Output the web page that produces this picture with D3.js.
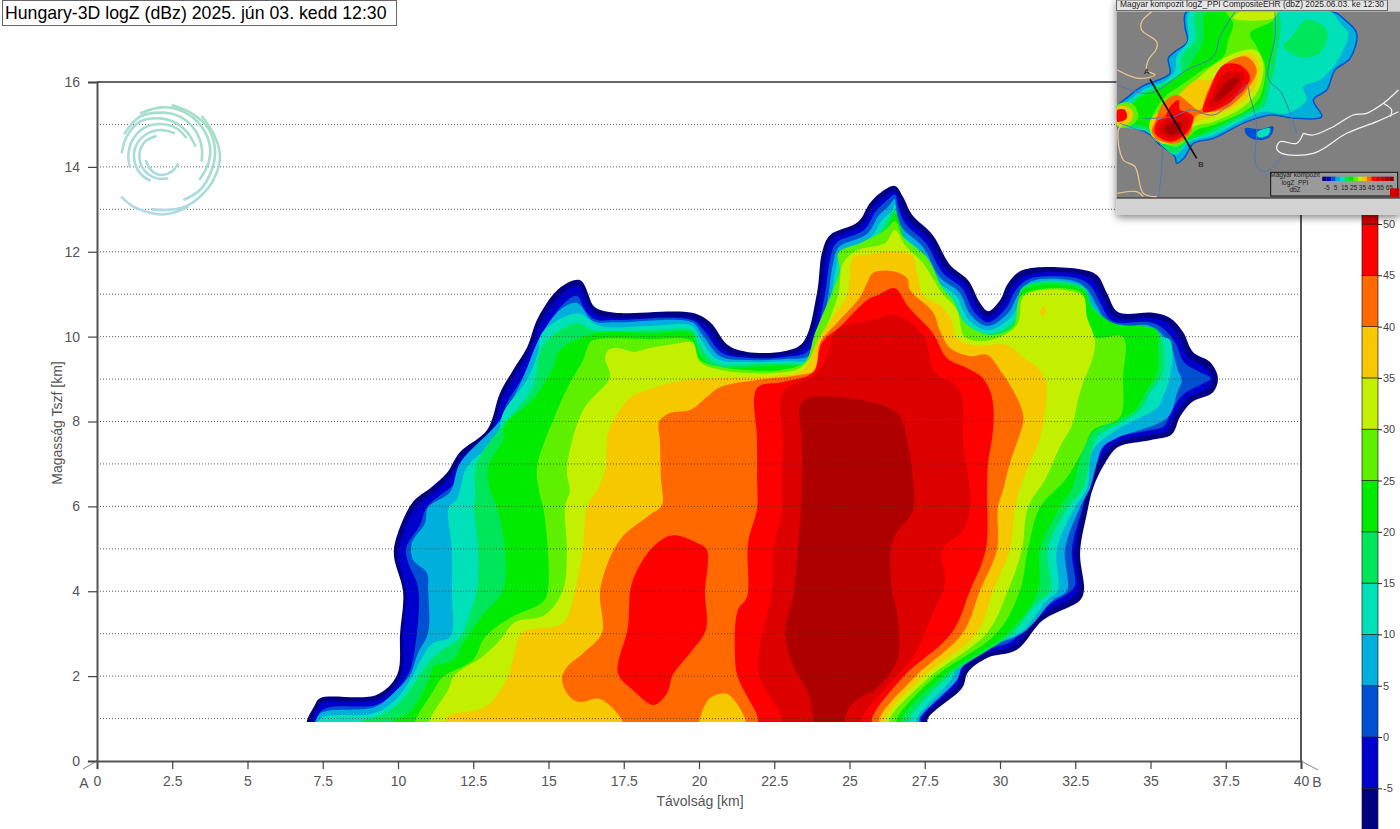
<!DOCTYPE html>
<html lang="hu">
<head>
<meta charset="UTF-8" />
<title>Hungary-3D logZ</title>
<style>
  body { margin: 0; background: #fff; }
  svg { display: block; font-family: "Liberation Sans", Arial, sans-serif; }
</style>
</head>
<body>
<script src="https://d3js.org/d3.v7.min.js"></script>
<script>
// contour outlines of the section, [distance km, height km], one array per dBZ floor
const bandM10 = [[7,.73],[7.24,1.32],[7.41,1.48],[9.3,1.56],[9.97,2.03],[10.07,3.02],[10.17,3.98],[9.87,4.81],[9.9,5.14],[10.47,6.08],[11.13,6.46],[11.63,6.79],[12.06,7.28],[12.96,7.8],[13.39,8.67],[13.82,9.21],[14.29,9.75],[14.65,10.44],[15.38,11.15],[16.05,11.33],[16.48,10.74],[16.64,10.65],[17.21,10.56],[19.77,10.56],[20.37,10.34],[20.96,9.8],[21.59,9.64],[22.86,9.66],[23.46,9.87],[23.92,11.03],[24.09,11.99],[24.35,12.39],[25.28,12.7],[25.68,13.15],[26.01,13.38],[26.51,13.55],[26.78,13.29],[27.08,12.87],[27.77,12.39],[28.34,11.69],[28.94,11.33],[29.34,10.79],[29.6,10.6],[30,10.86],[30.27,11.26],[30.76,11.57],[32.66,11.59],[33.22,11.45],[33.55,11.03],[33.92,10.58],[35.08,10.56],[35.65,10.44],[36.08,10.11],[36.41,9.64],[36.98,9.4],[37.24,9.02],[37.08,8.69],[36.38,8.46],[35.98,8.11],[35.71,7.7],[34.98,7.56],[33.92,7.4],[33.49,7.02],[33.09,6.43],[32.89,5.84],[32.66,4.9],[32.79,4.03],[32.66,3.79],[31.43,3.32],[30.56,2.62],[29.57,2.43],[28.94,2.1],[28.74,1.72],[27.61,1.01],[27.55,.73]]
const bandM5 = [[7.18,.73],[7.34,1.25],[7.51,1.39],[9.34,1.46],[10.07,1.96],[10.17,3.02],[10.27,3.98],[10,4.81],[10.07,5.14],[10.56,5.96],[11.23,6.36],[11.73,6.69],[12.16,7.19],[13.06,7.73],[13.49,8.58],[13.95,9.14],[14.39,9.68],[14.75,10.34],[15.48,11.03],[16.01,11.19],[16.31,10.74],[16.58,10.53],[17.21,10.44],[19.77,10.44],[20.27,10.23],[20.86,9.68],[21.59,9.54],[22.86,9.56],[23.55,9.78],[24.05,10.93],[24.22,11.9],[24.45,12.3],[25.38,12.61],[25.78,13.05],[26.11,13.29],[26.51,13.43],[26.68,13.19],[26.94,12.77],[27.64,12.3],[28.21,11.59],[28.84,11.24],[29.24,10.7],[29.6,10.46],[30.1,10.77],[30.4,11.17],[30.86,11.45],[32.59,11.48],[33.09,11.33],[33.42,10.93],[33.82,10.46],[35.05,10.44],[35.55,10.32],[35.95,9.99],[36.25,9.52],[36.81,9.28],[37.08,9.02],[36.91,8.79],[36.25,8.55],[35.85,8.2],[35.58,7.8],[34.92,7.68],[33.82,7.49],[33.32,7.09],[32.92,6.43],[32.72,5.84],[32.49,4.9],[32.62,4.08],[32.49,3.89],[31.33,3.42],[30.43,2.71],[29.47,2.52],[28.84,2.19],[28.6,1.79],[27.48,1.06],[27.41,.73]]
const band0 = [[7.28,.73],[7.41,1.15],[7.74,1.27],[9.34,1.34],[10.07,1.77],[10.4,2.14],[10.6,2.85],[10.7,3.79],[10.63,4.19],[10.33,4.69],[10.27,5.02],[10.73,5.56],[10.96,5.98],[11.63,6.38],[12.06,6.62],[12.46,7.04],[13.29,7.56],[13.59,8.39],[14.09,8.98],[14.55,9.64],[14.88,10.15],[15.55,10.81],[15.95,10.96],[16.21,10.63],[16.54,10.41],[17.21,10.39],[19.77,10.39],[20.16,10.15],[20.76,9.62],[21.59,9.5],[22.86,9.52],[23.65,9.68],[24.15,10.86],[24.35,11.8],[24.55,12.2],[25.48,12.51],[25.88,12.96],[26.21,13.19],[26.51,13.35],[26.61,13.08],[26.84,12.68],[27.54,12.2],[28.1,11.5],[28.74,11.14],[29.13,10.6],[29.6,10.34],[30.2,10.67],[30.5,11.07],[30.96,11.36],[32.52,11.38],[32.99,11.21],[33.32,10.81],[33.72,10.37],[34.98,10.34],[35.41,10.2],[35.81,9.87],[36.11,9.4],[36.64,9.16],[37.01,9.02],[36.71,8.88],[36.11,8.65],[35.71,8.27],[35.45,7.89],[34.81,7.77],[33.72,7.59],[33.22,7.19],[32.89,6.43],[32.75,5.98],[32.39,4.99],[32.49,4.15],[32.32,3.98],[31.23,3.51],[30.33,2.8],[29.37,2.62],[28.74,2.29],[28.5,1.88],[27.37,1.15],[27.31,.73]]
const band5 = [[7.31,.73],[7.4,1.11],[9.23,1.27],[9.9,1.63],[10.4,2.03],[10.66,2.54],[11,3.02],[11,4.03],[10.96,4.43],[10.5,4.74],[10.46,5.14],[10.9,5.61],[11,5.98],[11.73,6.34],[12.06,7.02],[13.39,8.03],[14.12,8.98],[14.72,9.99],[15.38,10.63],[15.95,10.79],[16.48,10.37],[17.27,10.34],[19.77,10.34],[20.1,10.06],[20.7,9.54],[21.59,9.45],[22.86,9.47],[23.75,9.59],[24.25,10.79],[24.45,11.71],[24.65,12.11],[25.58,12.42],[25.98,12.86],[26.31,13.08],[26.51,13.24],[26.54,12.96],[26.74,12.58],[27.44,12.11],[28,11.4],[28.64,11.05],[29.03,10.51],[29.6,10.25],[30.3,10.58],[30.6,10.98],[31.06,11.31],[32.46,11.31],[32.89,11.12],[33.22,10.72],[33.65,10.27],[34.91,10.27],[35.31,10.11],[35.68,9.75],[35.91,9.21],[36.04,8.98],[35.88,8.67],[35.58,8.1],[33.88,7.61],[33.42,7.4],[33.22,7.02],[32.99,6.43],[32.66,5.98],[32.16,4.99],[32.22,4.01],[31.76,3.79],[30.76,3.02],[29.33,2.62],[28.74,2.21],[28.57,1.91],[27.34,1.01],[27.27,.73]]
const band10 = [[7.34,.73],[7.44,1.01],[9.23,1.13],[9.97,1.48],[10.4,1.91],[10.8,2.43],[11.16,2.78],[11.73,2.92],[11.79,4.03],[11.79,4.97],[11.69,5.98],[11.96,6.17],[12.29,6.93],[13.29,7.61],[13.49,8.2],[14.28,8.98],[14.65,9.61],[14.78,10.08],[15.95,10.55],[16.71,10.25],[18.37,10.25],[19.77,10.25],[20.03,9.97],[20.6,9.47],[21.59,9.4],[22.86,9.42],[23.85,9.49],[24.35,10.7],[24.55,11.62],[24.75,12.02],[25.68,12.32],[26.08,12.75],[26.41,12.96],[26.51,13.12],[26.58,12.86],[26.64,12.49],[27.34,12.02],[27.9,11.31],[28.54,10.96],[28.94,10.41],[29.6,10.15],[30.4,10.48],[30.7,10.88],[31.16,11.26],[32.36,11.26],[32.79,11.03],[33.12,10.63],[33.55,10.18],[34.81,10.15],[35.25,10.01],[35.65,9.92],[35.65,9.05],[35.41,8.58],[35.25,8.34],[33.88,7.8],[33.09,7.33],[32.89,6.43],[32.49,5.98],[31.89,4.99],[31.92,4.01],[31.56,3.79],[30.66,3.02],[29.5,2.73],[28.57,2.26],[28.44,1.98],[27.24,1.01],[27.17,.73]]
const band15 = [[8.77,.73],[8.77,.92],[9.3,1.04],[9.97,1.32],[10.46,1.74],[11,2.31],[11.33,2.54],[12.06,2.92],[12.39,3.49],[12.62,4.03],[12.66,4.97],[12.52,5.98],[12.56,6.17],[12.62,7.02],[13.49,7.92],[14.48,8.81],[14.82,9.8],[15.95,10.32],[16.48,10.15],[18.37,10.15],[19.77,10.15],[19.97,9.87],[20.53,9.38],[21.59,9.35],[22.86,9.38],[23.95,9.4],[24.45,10.6],[24.65,11.52],[24.85,11.92],[25.78,12.23],[26.18,12.65],[26.51,13],[26.61,12.63],[26.74,12.39],[27.24,11.92],[27.81,11.21],[28.44,10.86],[28.84,10.32],[29.6,10.06],[30.5,10.39],[30.76,11.17],[32.76,11.17],[33.09,10.7],[33.88,10.27],[35.21,10.11],[35.41,9.85],[35.41,9.14],[34.98,8.67],[34.65,8.27],[33.88,7.92],[33.22,7.63],[32.76,6.43],[32.26,5.98],[31.59,4.99],[31.66,4.01],[31.16,3.68],[30.43,3.02],[28.27,1.98],[27.01,1.01],[26.94,.73]]
const band20 = [[9.8,.73],[9.8,.92],[10.4,1.15],[10.8,1.6],[11.06,1.98],[11.16,2.21],[11.83,2.38],[12.16,2.78],[12.39,3.02],[12.82,3.44],[13.49,4.03],[13.55,4.97],[13.29,5.98],[13.06,6.38],[12.99,6.93],[13.49,7.56],[13.55,7.92],[14.48,8.51],[15.15,9.28],[15.38,9.68],[16.54,10.08],[18.37,10.08],[19.77,10.08],[19.9,9.77],[20.43,9.3],[21.59,9.28],[22.86,9.33],[24.02,9.31],[24.55,10.51],[24.75,11.43],[24.95,11.83],[25.88,12.13],[26.21,12.46],[26.51,12.9],[26.84,12.27],[27.17,11.85],[27.74,11.1],[28.34,10.77],[28.74,10.22],[29.6,9.97],[30.53,10.27],[30.76,11.1],[32.76,11.1],[33.05,10.67],[33.75,10.32],[35.21,10.15],[35.25,9.75],[35.21,9.14],[34.88,8.74],[34.48,8.27],[33.88,8.03],[33.09,7.75],[32.72,7.26],[32.39,6.43],[31.99,5.98],[31.33,4.99],[31.26,4.01],[30.26,3.02],[28.07,1.98],[26.74,1.01],[26.68,.73]]
const band25 = [[10.56,.73],[10.56,.92],[11.13,1.6],[11.49,1.98],[12.49,2.38],[12.89,2.92],[13.72,3.37],[14.82,3.75],[14.98,4.03],[14.98,4.97],[14.82,5.98],[14.68,6.38],[14.62,6.93],[15.15,8.03],[15.71,8.91],[16.15,9.45],[16.38,9.87],[16.61,9.94],[18.37,9.94],[19.77,9.9],[20.03,9.45],[20.76,9.28],[21.69,9.21],[22.69,9.21],[23.52,9.4],[23.85,10.08],[24.45,11.1],[24.68,11.57],[24.62,11.97],[25.35,12.2],[26.18,12.51],[26.51,12.72],[26.78,12.35],[27.57,11.87],[28.07,11.17],[28.44,10.86],[28.84,10.32],[29.67,10.04],[30.43,10.23],[30.73,10.98],[32.72,11.03],[32.82,10.55],[33.15,9.99],[34.09,9.99],[34.09,9.05],[33.98,8.1],[33.09,7.8],[32.76,7.33],[32.16,6.62],[31.33,5.98],[30.93,4.99],[30.66,4.01],[29.9,3.02],[27.84,1.98],[26.58,1.01],[26.51,.73]]
const band30 = [[11.06,.73],[11.06,.97],[11.66,1.67],[11.89,2.03],[12.79,2.45],[13.39,2.85],[13.88,3.27],[14.88,3.44],[15.48,4.03],[15.61,4.97],[15.55,5.98],[15.71,6.38],[15.61,6.86],[16.15,8.27],[17.04,9.05],[16.88,9.49],[16.98,9.68],[17.27,9.73],[17.87,9.64],[18.37,9.73],[19.13,9.82],[19.77,9.85],[20.03,9.4],[20.76,9.21],[21.69,9.14],[22.46,9.14],[23.36,9.26],[23.85,9.68],[24.62,10.98],[24.78,11.73],[25.28,12.04],[26.18,12.2],[26.51,12.51],[26.84,12.16],[27.44,11.73],[28.07,11.03],[28.57,10.63],[28.84,9.99],[29.67,9.92],[30.56,10.27],[30.83,10.98],[32.72,10.98],[32.89,10.46],[33.15,9.92],[33.09,9.52],[32.76,8.91],[32.59,8.51],[32.42,7.96],[31.99,7.4],[31.49,6.62],[30.93,5.98],[30.73,4.99],[30.26,4.01],[29.57,3.02],[27.67,1.98],[26.34,1.01],[26.28,.73]]
const band35 = [[11.66,.73],[11.66,1.04],[12.89,1.27],[13.55,1.84],[13.82,2.38],[14.12,3.02],[15.48,3.25],[15.88,4.03],[16.14,4.97],[16.28,5.98],[16.61,6.38],[16.88,6.86],[16.98,7.73],[17.37,8.27],[17.81,8.62],[18.37,8.76],[19.13,8.93],[20.26,9.02],[21.36,9.05],[22.46,9.07],[23.45,9.21],[23.95,9.92],[24.42,10.44],[24.92,10.98],[25.12,11.87],[25.35,11.92],[27.07,11.92],[27.24,11.5],[27.44,10.98],[28,10.74],[28.34,10.46],[28.57,9.97],[29.1,9.8],[30.23,9.8],[30.76,9.52],[31.33,9.21],[31.53,8.91],[31.53,8.43],[31.33,7.63],[30.99,7.02],[30.76,6.62],[30.5,5.98],[30.33,4.99],[29.77,4.01],[29.23,3.02],[27.44,1.98],[26.18,1.01],[26.18,.73]]
const band35Spot = [[31.33,10.6],[31.43,10.72],[31.53,10.6],[31.43,10.48]]
const band40 = [[17.51,.73],[17.44,.97],[16.71,1.46],[16.05,1.39],[15.71,1.51],[15.45,1.91],[15.61,2.21],[16.15,2.54],[16.78,3.02],[16.71,3.86],[16.78,4.26],[17.37,5.21],[18.37,5.8],[18.77,6.03],[18.74,6.62],[18.7,7.56],[18.67,7.99],[19.04,8.2],[19.7,8.27],[20.26,8.58],[20.7,8.81],[21.93,8.98],[23.26,9.09],[23.85,9.21],[24.02,9.85],[24.58,10.32],[25.35,10.93],[25.58,11.26],[25.78,11.5],[26.44,11.54],[26.91,11.38],[27.01,11.1],[27.77,10.58],[28,10.15],[28.34,9.73],[29,9.54],[29.57,9.57],[30,9.21],[30.43,8.74],[30.76,8.2],[30.76,7.96],[30.33,7.02],[30.1,6.38],[29.93,5.98],[29.9,4.99],[29.33,4.01],[28.77,3.02],[27.17,1.98],[26,1.01],[26,.73],[21.59,.73],[21.53,1.01],[20.93,1.58],[20.36,1.48],[20.03,1.01],[19.97,.73]]
const band45 = [[21.96,.73],[21.96,1.01],[21.29,1.98],[21.19,2.54],[21.29,3.56],[21.59,3.86],[21.63,5.14],[21.93,5.96],[21.93,6.62],[21.93,7.56],[21.93,8.79],[22.79,8.93],[23.79,9.16],[24.08,9.85],[24.68,10.23],[25.58,10.86],[25.95,10.98],[26.51,11.14],[26.91,10.74],[27.11,10.58],[27.77,10.08],[28.24,9.49],[28.9,9.26],[29.43,9.02],[29.73,8.58],[29.77,7.8],[29.6,7.02],[29.57,6.38],[29.53,4.99],[29,4.01],[28.4,3.02],[26.78,1.98],[25.75,1.01],[25.75,.73]]
const band45Blob = [[19.13,5.32],[18.47,5.04],[17.77,4.19],[17.64,3.16],[17.31,2.07],[17.81,1.67],[18.5,1.32],[18.94,1.6],[19.13,2.03],[19.7,2.54],[20.23,3.09],[20.2,3.96],[20.26,4.97],[19.93,5.14]]
const band50 = [[22.76,.73],[22.76,1.01],[22.02,1.98],[22.02,2.69],[22.42,3.96],[22.46,4.9],[22.76,5.98],[22.76,6.62],[22.79,7.56],[22.79,8.69],[23.85,9.09],[24.25,9.52],[24.58,10.15],[25.78,10.39],[26.51,10.51],[27.44,10.04],[27.84,9.14],[28.5,8.86],[28.74,8.55],[28.77,7.56],[29,6.38],[29,5.98],[28.77,5.44],[28.07,4.97],[28.17,4.19],[27.77,3.49],[27.11,2.45],[26.44,1.91],[25.41,1.01],[25.41,.73]]
const band55 = [[23.79,.73],[23.79,1.01],[23.62,1.6],[23.09,2.31],[22.86,3.09],[23.12,3.86],[23.36,5.68],[23.42,6.62],[23.42,7.56],[23.42,8.46],[24.58,8.58],[26.58,8.2],[26.91,7.56],[27.11,6.62],[27.11,5.91],[26.44,5.21],[26.41,4.03],[26.58,3.49],[26.58,2.38],[25.91,1.72],[25.11,1.37],[24.85,1.01],[24.85,.73]]

const bandLevels = [-10, -5, 0, 5, 10, 15, 20, 25, 30, 35, 35, 40, 45, 45, 50, 55]
const bandShapes = [bandM10, bandM5, band0, band5, band10, band15, band20, band25, band30, band35, band35Spot, band40, band45, band45Blob, band50, band55]

const colorLevels = [-10, -5, 0, 5, 10, 15, 20, 25, 30, 35, 40, 45, 50, 55]
const colorValues = ["#000080", "#0000cd", "#0050d2", "#00afdc", "#00e1b9", "#00e65a", "#00eb00", "#5ff000", "#c3f000", "#f5c800", "#ff6900", "#ff0000", "#dc0000", "#af0000"]
const colorbarTicks = [-5, 0, 5, 10, 15, 20, 25, 30, 35, 40, 45, 50]

const xTicks = [0, 2.5, 5, 7.5, 10, 12.5, 15, 17.5, 20, 22.5, 25, 27.5, 30, 32.5, 35, 37.5, 40]
const yTicks = [0, 2, 4, 6, 8, 10, 12, 14, 16]
const gridHeights = [1, 2, 3, 4, 5, 6, 7, 8, 9, 10, 11, 12, 13, 14, 15]

// logo arcs, in logo units
const logoArcs = [
  [[363,590],[400,620],[450,638],[485,643],[530,635],[565,620]],
  [[455,628],[500,630],[555,620],[600,590],[640,540],[660,470],[645,410],[605,348]],
  [[550,600],[600,570],[635,510],[645,450],[625,385],[575,340],[515,315]],
  [[598,540],[625,490],[630,440],[605,380],[550,335],[485,322],[420,340]],
  [[605,485],[605,440],[585,390],[540,350],[485,338],[420,350],[372,403]],
  [[587,440],[560,395],[520,365],[480,355],[420,365],[380,410],[365,460]],
  [[560,415],[530,385],[480,372],[430,385],[395,425],[385,470],[390,503]],
  [[525,400],[480,390],[435,405],[405,445],[405,490],[425,525],[452,542]],
  [[470,407],[435,425],[418,465],[432,510],[470,535],[505,535]],
  [[535,490],[515,515],[485,525],[455,512],[437,480]]
]

// inset radar map, in map units
const mapLevels = [5, 10, 15, 15, 20, 25, 25, 30, 30, 35, 40, 45, 45, 50, 50, 55, 55, 35, 45, 0, 10]
const mapShapes = [
  [[260,35],[255,80],[262,125],[225,155],[205,175],[210,220],[175,240],[125,260],[85,290],[52,320],[52,380],[80,375],[145,400],[175,430],[225,470],[230,490],[255,470],[280,430],[340,415],[440,365],[515,345],[585,355],[665,350],[640,300],[680,270],[705,210],[750,175],[770,100],[735,60],[700,35]],
  [[270,35],[265,120],[230,170],[225,210],[200,240],[130,270],[90,300],[60,330],[60,375],[140,395],[180,430],[225,465],[270,425],[340,405],[440,355],[490,335],[560,340],[620,300],[610,260],[660,240],[700,200],[730,150],[745,100],[720,70],[690,35]],
  [[290,35],[285,120],[245,170],[240,225],[190,250],[130,280],[95,310],[80,370],[150,395],[190,440],[225,460],[270,420],[340,395],[440,345],[490,320],[510,260],[530,170],[530,35]],
  [[575,110],[620,60],[680,90],[660,160],[600,170],[550,140]],
  [[320,35],[310,120],[280,180],[240,225],[180,265],[110,300],[80,360],[150,385],[195,430],[260,420],[340,385],[430,340],[480,310],[500,230],[520,130],[500,35]],
  [[380,35],[400,70],[385,120],[370,170],[300,215],[230,265],[195,290],[150,370],[165,410],[230,440],[290,390],[340,375],[440,330],[480,290],[495,200],[470,140],[450,100],[520,60],[520,35]],
  [[52,315],[95,310],[115,350],[90,378],[52,380]],
  [[420,35],[400,55],[520,55],[530,35]],
  [[380,170],[310,220],[240,290],[150,365],[165,420],[230,430],[280,380],[340,365],[430,320],[475,270],[490,190],[465,150]],
  [[390,185],[330,240],[290,240],[230,290],[150,370],[165,415],[230,430],[280,370],[340,350],[420,310],[465,260],[475,190],[450,160]],
  [[370,195],[320,280],[300,330],[230,285],[190,310],[165,365],[155,395],[175,420],[230,430],[270,400],[285,350],[310,340],[380,325],[440,270],[470,210],[440,170]],
  [[370,195],[325,280],[310,335],[360,325],[430,270],[450,230],[420,195]],
  [[235,300],[210,320],[195,350],[170,365],[165,400],[210,425],[260,400],[280,350],[260,335],[240,330]],
  [[380,215],[340,275],[325,320],[360,315],[420,260],[435,225]],
  [[180,375],[175,395],[215,415],[260,390],[265,350],[220,345]],
  [[395,235],[350,285],[345,305],[400,265],[420,235]],
  [[190,385],[205,405],[235,400],[245,370],[215,365]],
  [[52,322],[85,322],[100,345],[85,370],[52,375]],
  [[52,330],[75,330],[80,355],[52,365]],
  [[435,385],[480,388],[520,380],[510,410],[470,420],[440,405]],
  [[470,398],[510,385],[505,405],[475,412]]
]
const mapBorders = [
  [[155,35],[125,65],[125,90],[170,125],[170,145],[145,180],[140,210],[165,225],[115,235],[52,210]],
  [[70,370],[55,390],[70,480],[105,500],[130,580],[170,590]],
  [[52,580],[110,575],[130,590]]
]
const mapRivers = [
  [[405,35],[360,110],[340,170],[260,210],[150,280],[80,265],[52,255]],
  [[525,35],[525,110],[505,235],[545,280],[590,400]],
  [[130,355],[220,350],[270,330],[340,345],[400,300],[440,255],[450,290],[470,370],[470,500],[500,515],[545,470]],
  [[60,370],[180,430],[185,500],[175,590]]
]
const mapLake = [
  [[610,400],[640,405],[700,380],[760,345],[800,340],[850,310],[895,270]],
  [[610,400],[590,430],[540,425],[530,445],[545,460],[640,460],[740,400],[830,365],[895,335]],
  [[850,310],[875,330],[870,350]]
]
const sectionLine = [[150,238],[290,475]]
const legendLines = ["Magyar kompozit", "logZ_PPI", "dbZ"]
const legendTicks = [-5, 5, 15, 25, 35, 45, 55, 65]
const legendLevels = [-10, -5, 0, 5, 10, 15, 20, 25, 30, 35, 40, 45, 50, 55, 60, 65]
const legendColors = ["#000080", "#0000cd", "#0050d2", "#00afdc", "#00e1b9", "#00e65a", "#00eb00", "#5ff000", "#c3f000", "#f5c800", "#ff6900", "#ff0000", "#dc0000", "#c80000", "#af0000", "#8c0000"]

const width = 1400
const height = 829
const textColor = "#555"

const svg = d3.select("body").append("svg").attr("width", width).attr("height", height)
const defs = svg.append("defs")

const x = d3.scaleLinear().domain([0, 40]).range([97, 1301])
const y = d3.scaleLinear().domain([0, 16]).range([761, 82])
const colorY = d3.scaleLinear().domain([0, 50]).range([737, 224])
const color = d3.scaleOrdinal().domain(colorLevels).range(colorValues)

// section data stops at 0.92 km, outlines run past it and get cut
defs.append("clipPath").attr("id", "sectionClip").append("rect")
  .attr("x", x(0)).attr("y", y(16))
  .attr("width", x(40) - x(0)).attr("height", y(0.92) - y(16))

const sectionLinePath = d3.line().x(d => x(d[0])).y(d => y(d[1])).curve(d3.curveCatmullRomClosed.alpha(0.5))

svg.append("g").attr("clip-path", "url(#sectionClip)")
  .selectAll("path").data(bandShapes).enter().append("path")
  .attr("d", sectionLinePath)
  .attr("fill", (d, i) => color(bandLevels[i]))

// dotted height lines sit above the colours
svg.append("g").selectAll("line").data(gridHeights).enter().append("line")
  .attr("x1", x(0)).attr("x2", x(40))
  .attr("y1", d => y(d)).attr("y2", d => y(d))
  .attr("stroke", "#333").attr("stroke-width", 0.8).attr("stroke-dasharray", "1 2")

// logo
const logoX = d3.scaleLinear().domain([0, 420]).range([0, 140])
const logoY = d3.scaleLinear().domain([0, 420]).range([0, 140])
const logoGrad = defs.append("linearGradient").attr("id", "logoGrad")
  .attr("gradientUnits", "userSpaceOnUse")
  .attr("x1", 205).attr("y1", 110).attr("x2", 130).attr("y2", 215)
logoGrad.append("stop").attr("offset", 0).attr("stop-color", "#a5e0c3")
logoGrad.append("stop").attr("offset", 0.55).attr("stop-color", "#a8dcdc")
logoGrad.append("stop").attr("offset", 1).attr("stop-color", "#b4d8ec")
const logoLine = d3.line().x(d => logoX(d[0])).y(d => logoY(d[1])).curve(d3.curveCatmullRom)
svg.append("g").selectAll("path").data(logoArcs).enter().append("path")
  .attr("d", logoLine).attr("fill", "none")
  .attr("stroke", "url(#logoGrad)").attr("stroke-width", 2.6)

// axes
const xAxis = d3.axisBottom(x).tickValues(xTicks).tickSize(8).tickPadding(7).tickFormat(d3.format("~g"))
const yAxis = d3.axisLeft(y).tickValues(yTicks).tickSize(9).tickPadding(8)
const gx = svg.append("g").attr("transform", `translate(0,${y(0)})`).call(xAxis)
const gy = svg.append("g").attr("transform", `translate(${x(0)},0)`).call(yAxis)
for (const g of [gx, gy]) {
  g.selectAll("text").attr("fill", textColor).style("font-size", "14px").style("font-family", "Liberation Sans")
  g.selectAll("line").attr("stroke", "#444").attr("stroke-width", 1.2)
  g.select(".domain").attr("stroke", "#555").attr("stroke-width", 2)
}
svg.append("line").attr("x1", x(0)).attr("x2", x(40)).attr("y1", y(16)).attr("y2", y(16))
  .attr("stroke", "#333").attr("stroke-width", 1.5)
svg.append("line").attr("x1", x(40)).attr("x2", x(40)).attr("y1", y(16)).attr("y2", y(0))
  .attr("stroke", "#555").attr("stroke-width", 2)
svg.append("line").attr("x1", x(0)).attr("x2", x(0) - 14).attr("y1", y(0)).attr("y2", y(0) + 8)
  .attr("stroke", "#666").attr("stroke-width", 0.8)
svg.append("line").attr("x1", x(40)).attr("x2", x(40) + 17).attr("y1", y(0)).attr("y2", y(0) + 9)
  .attr("stroke", "#666").attr("stroke-width", 0.8)

const addText = (px, py, label, size, anchor) => svg.append("text")
  .attr("x", px).attr("y", py).text(label)
  .attr("fill", textColor).attr("font-size", size).attr("text-anchor", anchor || "middle")

addText(84, 788, "A", 14)
addText(1317, 787, "B", 14)
addText(700, 806, "Távolság [km]", 14)
svg.append("text").attr("transform", "translate(62,423) rotate(-90)")
  .attr("text-anchor", "middle").attr("fill", textColor).attr("font-size", 14)
  .text("Magasság Tszf [km]")

// title box
svg.append("rect").attr("x", 2.5).attr("y", 0.5).attr("width", 394).attr("height", 25)
  .attr("fill", "#fff").attr("stroke", "#666")
svg.append("text").attr("x", 5).attr("y", 19).attr("font-size", 17.7).attr("fill", "#000")
  .text("Hungary-3D logZ (dBz) 2025. jún 03. kedd 12:30")

// colorbar
const barLeft = 1362
const barWidth = 16
svg.append("g").selectAll("rect").data(colorLevels).enter().append("rect")
  .attr("x", barLeft).attr("width", barWidth)
  .attr("y", d => colorY(d + 5)).attr("height", d => colorY(d) - colorY(d + 5))
  .attr("fill", d => color(d)).attr("stroke", "#222").attr("stroke-width", 0.7)
const cbAxis = d3.axisRight(colorY).tickValues(colorbarTicks).tickSize(4).tickPadding(1).tickFormat(d => String(d))
const gc = svg.append("g").attr("transform", `translate(${barLeft + barWidth},0)`).call(cbAxis)
gc.select(".domain").remove()
gc.selectAll("text").attr("fill", "#444").style("font-size", "11px").style("font-family", "Liberation Sans")
gc.selectAll("line").attr("stroke", "#222")

// inset with the radar map
const mapX = d3.scaleLinear().domain([0, 900]).range([1100, 1400])
const mapY = d3.scaleLinear().domain([0, 660]).range([0, 220])
const shadow = defs.append("filter").attr("id", "insetShadow")
  .attr("x", "-5%").attr("y", "-5%").attr("width", "110%").attr("height", "115%")
shadow.append("feDropShadow").attr("dx", 0).attr("dy", 2).attr("stdDeviation", 4)
  .attr("flood-color", "#000").attr("flood-opacity", 0.55)
const blur = defs.append("filter").attr("id", "mapBlur")
blur.append("feGaussianBlur").attr("stdDeviation", 0.35)
defs.append("clipPath").attr("id", "mapClip").append("rect")
  .attr("x", mapX(50)).attr("y", mapY(35))
  .attr("width", mapX(900) - mapX(50)).attr("height", mapY(593) - mapY(35))

svg.append("rect").attr("x", mapX(50)).attr("y", 0)
  .attr("width", mapX(900) - mapX(50)).attr("height", mapY(645))
  .attr("fill", "#d2d2d2").attr("filter", "url(#insetShadow)")
const inset = svg.append("g")
inset.append("rect").attr("x", mapX(50)).attr("y", mapY(35))
  .attr("width", mapX(900) - mapX(50)).attr("height", mapY(593) - mapY(35)).attr("fill", "#808080")
inset.append("rect").attr("x", mapX(50)).attr("y", mapY(0))
  .attr("width", mapX(862) - mapX(50)).attr("height", mapY(32)).attr("fill", "#e6e6e6")
  .attr("stroke", "#444").attr("stroke-width", 0.8)
inset.append("text").attr("x", mapX(60)).attr("y", mapY(21)).attr("font-size", 8.4).attr("fill", "#222")
  .text("Magyar kompozit logZ_PPI CompositeEHR (dbZ) 2025.06.03. ke 12:30")
inset.append("line").attr("x1", mapX(50)).attr("x2", mapX(900)).attr("y1", mapY(594)).attr("y2", mapY(594))
  .attr("stroke", "#111").attr("stroke-width", 1.2)

const mapGroup = inset.append("g").attr("clip-path", "url(#mapClip)").append("g").attr("filter", "url(#mapBlur)")
const mapArea = d3.line().x(d => mapX(d[0])).y(d => mapY(d[1])).curve(d3.curveCatmullRomClosed.alpha(0.5))
const mapPath = d3.line().x(d => mapX(d[0])).y(d => mapY(d[1])).curve(d3.curveCatmullRom.alpha(0.5))
mapGroup.selectAll(".echo").data(mapShapes).enter().append("path").attr("class", "echo")
  .attr("d", mapArea)
  .attr("fill", (d, i) => color(mapLevels[i]))
  .attr("stroke", (d, i) => i === 0 ? "#0050d2" : "none").attr("stroke-width", 1.5)
mapGroup.selectAll(".border").data(mapBorders).enter().append("path").attr("class", "border")
  .attr("d", mapPath).attr("fill", "none").attr("stroke", "#f0c88c").attr("stroke-width", 1.2)
mapGroup.selectAll(".river").data(mapRivers).enter().append("path").attr("class", "river")
  .attr("d", mapPath).attr("fill", "none").attr("stroke", "#4f78b4").attr("stroke-width", 1)
mapGroup.selectAll(".lake").data(mapLake).enter().append("path").attr("class", "lake")
  .attr("d", mapPath).attr("fill", "none").attr("stroke", "#f4f4f4").attr("stroke-width", 1.2)
inset.append("path").attr("d", d3.line().x(d => mapX(d[0])).y(d => mapY(d[1]))(sectionLine)).attr("stroke", "#000").attr("stroke-width", 1.6)
inset.append("text").attr("x", mapX(140)).attr("y", mapY(222)).attr("text-anchor", "middle").attr("font-size", 8).attr("fill", "#111").text("A")
inset.append("text").attr("x", mapX(303)).attr("y", mapY(500)).attr("text-anchor", "middle").attr("font-size", 8).attr("fill", "#111").text("B")

// inset legend
inset.append("rect").attr("x", mapX(512)).attr("y", mapY(517))
  .attr("width", mapX(893) - mapX(512)).attr("height", mapY(588) - mapY(517))
  .attr("fill", "#9a9a9a").attr("stroke", "#111").attr("stroke-width", 1)
inset.selectAll(".legendText").data(legendLines).enter().append("text").attr("class", "legendText")
  .attr("x", mapX(585)).attr("y", (d, i) => mapY(532 + i * 22))
  .attr("text-anchor", "middle").attr("font-size", 6.5).attr("fill", "#222").text(d => d)
const legendX = d3.scaleLinear().domain([-5, 65]).range([mapX(680), mapX(868)])
inset.selectAll(".legendCell").data(legendLevels).enter().append("rect").attr("class", "legendCell")
  .attr("x", d => legendX(d)).attr("width", d => legendX(d + 5) - legendX(d))
  .attr("y", mapY(530)).attr("height", mapY(543) - mapY(530))
  .attr("fill", (d, i) => legendColors[i])
inset.selectAll(".legendTick").data(legendTicks).enter().append("text").attr("class", "legendTick")
  .attr("x", d => legendX(d)).attr("y", mapY(570))
  .attr("text-anchor", "middle").attr("font-size", 6.5).attr("fill", "#222").text(d => d)
inset.append("rect").attr("x", mapX(870)).attr("y", mapY(565))
  .attr("width", mapX(898) - mapX(870)).attr("height", mapY(592) - mapY(565)).attr("fill", "#d20000")
</script>
</body>
</html>
